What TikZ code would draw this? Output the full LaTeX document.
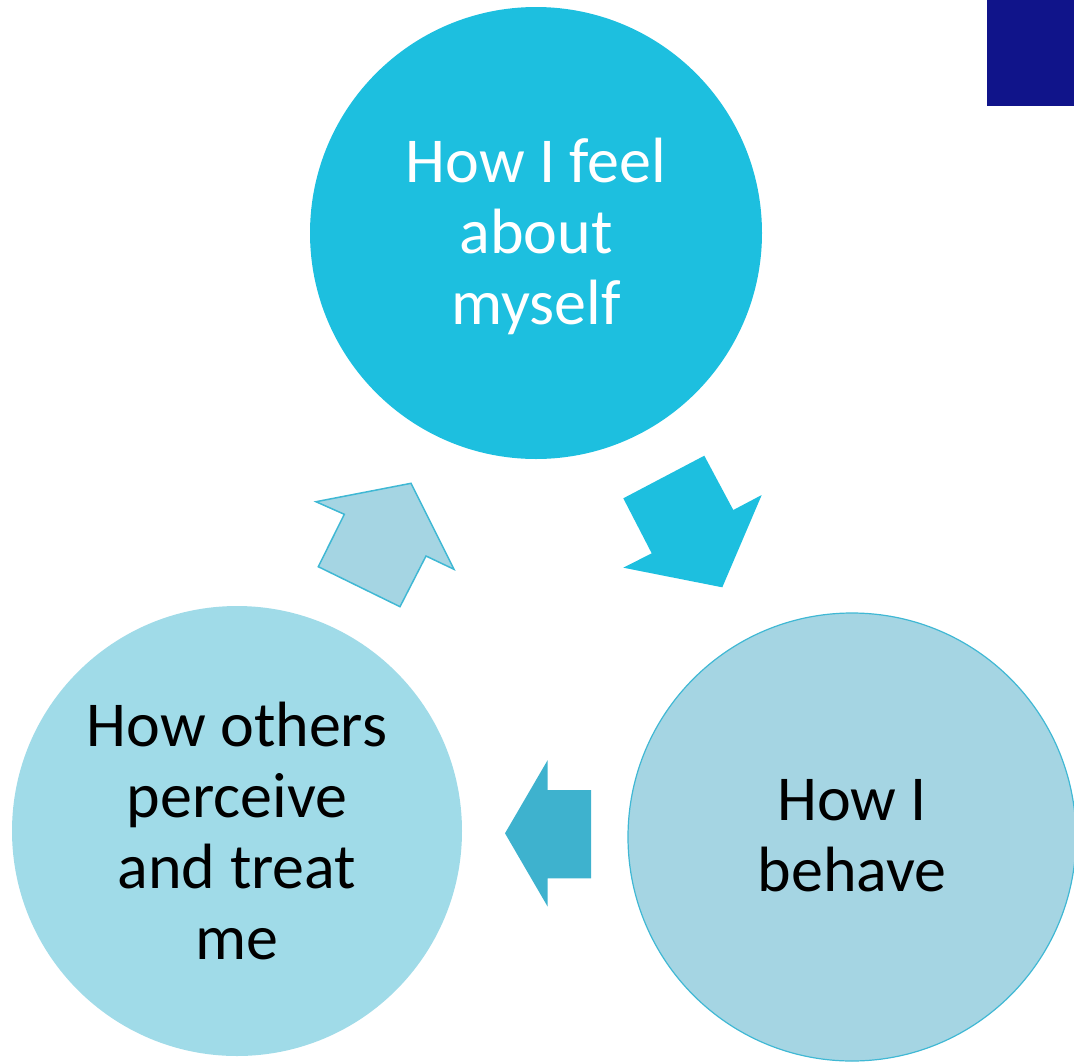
\documentclass[tikz,border=0pt]{standalone}
\usepackage{fontspec}
\setmainfont{Carlito}
\definecolor{topblue}{HTML}{1DBFDF}
\definecolor{leftblue}{HTML}{A0DBE8}
\definecolor{rightblue}{HTML}{A5D5E3}
\definecolor{edgeblue}{HTML}{40B8D4}
\definecolor{navy}{HTML}{10148A}
\begin{document}
\begin{tikzpicture}[x=1pt,y=-1pt,
  bubble/.style={circle,inner sep=0pt,minimum size=#1},
  label/.style={align=center,font=\fontsize{64}{71}\selectfont},
  blockarrow/.style={line join=miter}]
\useasboundingbox (0,0) rectangle (1074,1061);
\clip (0,0) rectangle (1074,1061);
% corner square
\fill[navy] (987,0) rectangle (1074,106);
% circles
\node[bubble=452pt,fill=topblue] (feel) at (536,233) {};
\node[bubble=450pt,fill=leftblue] (others) at (237,831) {};
\node[bubble=448pt,fill=rightblue,draw=edgeblue,line width=1.2pt] (behave) at (852,837) {};
% texts
\node[label,text=white] (feeltxt) at (536,236) {How I feel\\about\\myself};
\node[label,text=black] (otherstxt) at (237,831) {How others\\perceive\\and treat\\me};
\node[label,text=black] (behavetxt) at (852,836) {How I\\behave};
% arrows
\fill[topblue,blockarrow] (623.3,498.3) -- (704.3,455.7) -- (733.3,510) -- (761.7,495)
  -- (722.3,587.3) -- (623.3,567.7) -- (651.7,553.3) -- cycle;
\fill[edgeblue!97!black,blockarrow] (505,833.3) -- (547.7,760) -- (547.7,790) -- (591,790)
  -- (591,878.3) -- (547.7,878.3) -- (547.7,906.7) -- cycle;
\filldraw[fill=rightblue,draw=edgeblue,line width=1.5pt,blockarrow] (316,501.7) -- (411,483.3) -- (454,569.3) -- (426,556)
  -- (400,606.7) -- (318.3,566.7) -- (344.3,514.3) -- cycle;
\end{tikzpicture}
\end{document}
